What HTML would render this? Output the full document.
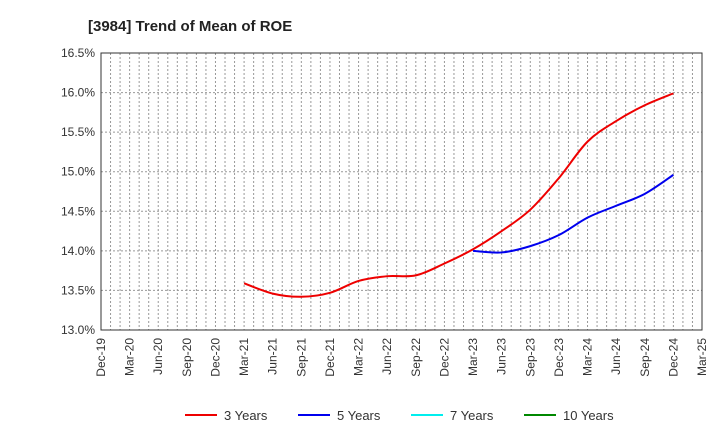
<!DOCTYPE html>
<html><head><meta charset="utf-8"><style>
body{margin:0;background:#fff;font-family:"Liberation Sans",Arial,sans-serif}
</style></head><body>
<svg id="c" width="720" height="440" xmlns="http://www.w3.org/2000/svg">
<text x="88" y="31" font-size="15" font-weight="bold" fill="#222">[3984]  Trend of Mean of ROE</text>
<g id="grid"></g><g id="series"></g><g id="axes"></g>
<g font-size="13" fill="#333">
<g><line x1="185" y1="415" x2="217" y2="415" stroke="#e00" stroke-width="2"/><text x="224" y="420">3 Years</text></g>
<g><line x1="298" y1="415" x2="330" y2="415" stroke="#00e" stroke-width="2"/><text x="337" y="420">5 Years</text></g>
<g><line x1="411" y1="415" x2="443" y2="415" stroke="#0ee" stroke-width="2"/><text x="450" y="420">7 Years</text></g>
<g><line x1="524" y1="415" x2="556" y2="415" stroke="#080" stroke-width="2"/><text x="563" y="420">10 Years</text></g>
</g>
</svg>
<script>
const xLabels=["Dec-19","Mar-20","Jun-20","Sep-20","Dec-20","Mar-21","Jun-21","Sep-21","Dec-21","Mar-22","Jun-22","Sep-22","Dec-22","Mar-23","Jun-23","Sep-23","Dec-23","Mar-24","Jun-24","Sep-24","Dec-24","Mar-25"];
const yTicks=[13.0,13.5,14.0,14.5,15.0,15.5,16.0,16.5];
const s3Start=5;
const s3=[13.59,13.46,13.42,13.47,13.62,13.68,13.69,13.84,14.02,14.25,14.52,14.92,15.38,15.64,15.84,15.99];
const s5Start=13;
const s5=[14.00,13.98,14.06,14.20,14.42,14.57,14.72,14.96];
const L=101,R=702,T=53,B=330,NS="http://www.w3.org/2000/svg";
const months=(xLabels.length-1)*3;
const xM=m=>L+m*(R-L)/months;
const xQ=q=>xM(q*3);
const y=v=>B-(v-13.0)/(16.5-13.0)*(B-T);
function mk(p,t,a){const e=document.createElementNS(NS,t);for(const k in a)e.setAttribute(k,a[k]);document.getElementById(p).appendChild(e);return e;}
for(let m=1;m<months;m++){const g=mk('grid','line',{x1:xM(m),x2:xM(m),y1:T,y2:B,stroke:'#999','stroke-dasharray':'2,2','stroke-width':1});

}
yTicks.forEach(v=>{const g=mk('grid','line',{x1:L,x2:R,y1:y(v),y2:y(v),stroke:'#999','stroke-dasharray':'2,2'});


const t=mk('axes','text',{x:L-6,y:y(v)+4,'text-anchor':'end','font-size':12,fill:'#333'});t.textContent=v.toFixed(1)+'%';

});
xLabels.forEach((l,i)=>{const t=mk('axes','text',{transform:`translate(${xQ(i)+4},${B+8}) rotate(-90)`,'text-anchor':'end','font-size':12,fill:'#333'});t.textContent=l;

});
const f=mk('axes','rect',{x:L,y:T,width:R-L,height:B-T,fill:'none',stroke:'#333'});


function path(d,st){const p=d.map((v,i)=>[xQ(st+i),y(v)]);let s=`M${p[0][0]},${p[0][1]}`;
for(let i=0;i<p.length-1;i++){const p0=p[i-1]||p[i],p1=p[i],p2=p[i+1],p3=p[i+2]||p2;
s+=` C${p1[0]+(p2[0]-p0[0])/6},${p1[1]+(p2[1]-p0[1])/6} ${p2[0]-(p3[0]-p1[0])/6},${p2[1]-(p3[1]-p1[1])/6} ${p2[0]},${p2[1]}`;}return s;}
const a=mk('series','path',{d:path(s3,s3Start),fill:'none',stroke:'#e00','stroke-width':2});


const b=mk('series','path',{d:path(s5,s5Start),fill:'none',stroke:'#00e','stroke-width':2});


</script>
</body></html>
